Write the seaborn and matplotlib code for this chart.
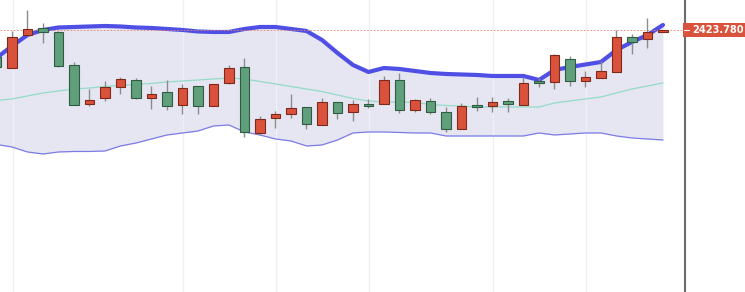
import numpy as np
import pandas as pd
import matplotlib
matplotlib.use("Agg")
import matplotlib.pyplot as plt
import seaborn as sns
from matplotlib.patches import Rectangle

# ---- data (price units) ----
opens = [2396.8, 2385.8, 2418.8, 2425.8, 2421.8, 2388.8, 2349.8, 2355.8, 2366.8, 2373.8,
         2355.8, 2361.8, 2348.8, 2367.8, 2347.8, 2370.8, 2386.8, 2320.8, 2335.8, 2339.8,
         2346.8, 2328.8, 2351.8, 2341.8, 2349.8, 2349.8, 2373.8, 2343.8, 2352.8, 2341.8,
         2324.8, 2348.8, 2347.8, 2352.8, 2348.8, 2371.8, 2371.8, 2394.8, 2372.8, 2375.8,
         2381.8, 2416.8, 2414.8, 2421.78]
closes = [2386.8, 2416.8, 2424.8, 2421.8, 2387.8, 2348.8, 2353.8, 2366.8, 2374.8, 2355.8,
          2359.8, 2347.8, 2365.8, 2347.8, 2369.8, 2385.8, 2321.8, 2334.8, 2339.8, 2345.8,
          2329.8, 2351.8, 2340.8, 2349.8, 2347.8, 2373.8, 2343.8, 2353.8, 2341.8, 2324.8,
          2347.8, 2346.8, 2351.8, 2349.8, 2370.8, 2370.8, 2398.8, 2372.8, 2376.8, 2382.8,
          2416.8, 2411.8, 2421.8, 2423.78]
highs = [2399.8, 2422.8, 2443.8, 2430.8, 2422.8, 2391.8, 2364.8, 2372.8, 2376.8, 2375.8,
         2367.8, 2373.8, 2369.8, 2367.8, 2369.8, 2388.8, 2395.8, 2337.8, 2342.8, 2359.8,
         2346.8, 2355.8, 2351.8, 2353.8, 2354.8, 2377.8, 2380.8, 2354.8, 2355.8, 2346.8,
         2350.8, 2356.8, 2356.8, 2355.8, 2376.8, 2375.8, 2399.8, 2397.8, 2382.8, 2392.8,
         2423.8, 2419.8, 2435.8, 2423.78]
lows = [2384.8, 2385.8, 2418.8, 2410.8, 2386.8, 2348.8, 2347.8, 2352.8, 2359.8, 2354.8,
        2344.8, 2343.8, 2339.8, 2339.8, 2347.8, 2369.8, 2316.8, 2318.8, 2325.8, 2335.8,
        2324.8, 2328.8, 2334.8, 2332.8, 2345.8, 2349.8, 2340.8, 2341.8, 2339.8, 2321.8,
        2324.8, 2342.8, 2341.8, 2341.8, 2348.8, 2366.8, 2364.8, 2367.8, 2366.8, 2375.8,
        2381.8, 2399.8, 2405.8, 2421.78]

upper = [2395.8, 2407.8, 2418.8, 2423.8, 2426.3, 2426.8, 2427.3, 2427.8, 2427.3, 2426.3,
         2425.8, 2424.8, 2423.8, 2422.3, 2421.8, 2421.8, 2424.8, 2426.8, 2426.8, 2424.8,
         2422.8, 2413.8, 2400.8, 2388.8, 2381.8, 2385.8, 2384.8, 2382.8, 2380.8, 2379.8,
         2379.3, 2378.8, 2377.8, 2377.8, 2377.8, 2373.8, 2383.8, 2386.8, 2389.3, 2391.8,
         2403.8, 2411.8, 2418.8, 2428.8]
middle = [2353.3, 2354.8, 2357.8, 2360.8, 2362.8, 2364.8, 2365.8, 2367.3, 2368.3, 2369.3,
          2370.3, 2371.8, 2372.8, 2373.8, 2374.8, 2375.8, 2374.8, 2372.3, 2369.8, 2367.3,
          2364.8, 2362.3, 2358.8, 2355.3, 2352.8, 2351.8, 2351.8, 2351.3, 2349.3, 2348.3,
          2347.8, 2346.8, 2346.8, 2346.8, 2346.8, 2346.8, 2350.8, 2352.8, 2354.8, 2356.8,
          2360.8, 2364.8, 2367.8, 2370.8]
lower = [2309.3, 2306.8, 2301.8, 2299.8, 2301.8, 2302.3, 2302.3, 2302.8, 2307.8, 2310.8,
         2314.8, 2318.8, 2320.8, 2322.8, 2327.8, 2328.8, 2321.8, 2318.8, 2314.8, 2312.8,
         2307.8, 2308.8, 2313.8, 2320.8, 2321.8, 2321.8, 2321.3, 2320.8, 2320.8, 2317.8,
         2317.8, 2317.8, 2317.8, 2317.8, 2317.8, 2320.8, 2318.8, 2319.8, 2320.8, 2320.8,
         2317.8, 2315.8, 2314.8, 2313.8]
last_price = 2423.78
last_label = "2423.780"
grid_idx = [1, 12, 18, 24, 32, 38]

idx = np.arange(len(opens))
df = pd.DataFrame({"i": idx, "open": opens, "close": closes, "high": highs, "low": lows,
                   "upper": upper, "middle": middle, "lower": lower})

sns.set_theme(style="white")
fig = plt.figure(figsize=(7.45, 2.92), dpi=100)
ax = fig.add_axes([0, 0, 685 / 745, 1])
ax.set_facecolor("white")

# bands
ax.fill_between(df["i"], df["lower"], df["upper"], color="#e6e6f2", zorder=1, lw=0)
for g in grid_idx:
    ax.axvline(g + 0.06, color="#edf0f6", lw=1, zorder=1.5)
sns.lineplot(data=df, x="i", y="middle", ax=ax, color="#93dcc6", lw=0.9, zorder=2)
sns.lineplot(data=df, x="i", y="lower", ax=ax, color="#7c7ce6", lw=0.9, zorder=2)
sns.lineplot(data=df, x="i", y="upper", ax=ax, color="#4f4fe6", lw=3.0, zorder=2,
             solid_capstyle="round")

# candles
up = df["close"] >= df["open"]
body_col = np.where(up, "#da523b", "#5f9f7b")
edge_col = np.where(up, "#7d2a1c", "#2f5c43")
ax.vlines(df["i"], df["low"], df["high"], color="#8c8c8c", lw=1.0, zorder=3)
bottom = np.minimum(df["open"], df["close"])
height = np.maximum(np.abs(df["close"] - df["open"]), 1.5)
ax.bar(df["i"], height, bottom=bottom, width=0.62, color=body_col,
       edgecolor=edge_col, linewidth=0.8, zorder=4)

# last price line
ax.axhline(last_price, color="#e8826e", lw=0.6, ls=(0, (2, 2)), zorder=2.5)

ax.set_xlim(0.226, 44.42)
ax.set_ylim(2161.78, 2453.78)
ax.set_xticks([])
ax.set_yticks([])
ax.set_xlabel("")
ax.set_ylabel("")
for s in ["left", "top", "bottom"]:
    ax.spines[s].set_visible(False)
ax.spines["right"].set_visible(True)
ax.spines["right"].set_color("#6b6b6b")
ax.spines["right"].set_linewidth(1.5)

# price label box
tr = ax.get_yaxis_transform()
ax.add_patch(Rectangle((1.0 - 2 / 685, last_price - 7), 70 / 685, 14, transform=tr,
                       facecolor="#d9533c", edgecolor="none", clip_on=False, zorder=5))
ax.plot([1.0 - 1 / 685, 1.0 + 4 / 685], [last_price, last_price], transform=tr,
        color="white", lw=0.8, clip_on=False, zorder=6)
ax.text(1.0 + 7 / 685, last_price, last_label, transform=tr, ha="left", va="center",
        color="white", fontsize=7.1, fontweight="bold", family="DejaVu Sans",
        clip_on=False, zorder=6)

fig.savefig("out.png", dpi=100, facecolor="white")
